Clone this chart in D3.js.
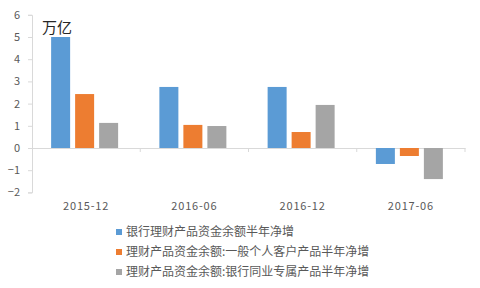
<!DOCTYPE html>
<html>
<head>
<meta charset="utf-8">
<script src="https://cdn.jsdelivr.net/npm/d3@7"></script>
<style>
  body { margin: 0; background: #fff; }
  svg text { font-family: "Noto Sans CJK SC", "Noto Sans", sans-serif; }
</style>
</head>
<body>
<svg id="chart" width="480" height="288"></svg>
<script>
const categories = ["2015-12", "2016-06", "2016-12", "2017-06"];
const seriesNames = [
  "银行理财产品资金余额半年净增",
  "理财产品资金余额:一般个人客户产品半年净增",
  "理财产品资金余额:银行同业专属产品半年净增"
];
const bankTotal = [5.0, 2.75, 2.75, -0.72];
const personal = [2.43, 1.04, 0.72, -0.36];
const interbank = [1.13, 0.99, 1.94, -1.40];
const yTicks = [-2, -1, 0, 1, 2, 3, 4, 5, 6];
const colors = ["#5b9bd5", "#ed7d31", "#a5a5a5"];

const svg = d3.select("#chart");
const plotLeft = 32, plotRight = 465, plotTop = 14.8, plotBottom = 192.4;

const x = d3.scaleBand().domain(categories).range([plotLeft, plotRight]);
const y = d3.scaleLinear().domain([-2, 6]).range([plotBottom, plotTop]);
const series = [bankTotal, personal, interbank];

// y axis
const yAxis = svg.append("g")
  .attr("transform", "translate(" + plotLeft + ",0)")
  .call(d3.axisLeft(y).tickValues(yTicks).tickSize(4).tickPadding(8).tickFormat(d3.format("d")));
yAxis.select(".domain").attr("stroke", "#d9d9d9");
yAxis.selectAll(".tick line").attr("stroke", "#d9d9d9");
yAxis.selectAll("text").attr("fill", "#595959").style("font-size", "11px");

// zero line with category ticks
const xAxis = svg.append("g")
  .attr("transform", "translate(0," + y(0) + ")")
  .call(d3.axisBottom(x).tickSize(0).tickFormat(""));
xAxis.select(".domain").attr("stroke", "#d9d9d9");
xAxis.selectAll(".tick").remove();
xAxis.selectAll(".sep")
  .data(categories)
  .enter()
  .append("line")
  .attr("x1", d => x(d) + x.bandwidth())
  .attr("x2", d => x(d) + x.bandwidth())
  .attr("y1", 0)
  .attr("y2", 4)
  .attr("stroke", "#d9d9d9");

// category labels below the plot
svg.selectAll(".cat")
  .data(categories)
  .enter()
  .append("text")
  .attr("x", d => x(d) + x.bandwidth() / 2)
  .attr("y", 210)
  .attr("text-anchor", "middle")
  .attr("fill", "#595959")
  .style("font-size", "11px")
  .style("letter-spacing", "0.8px")
  .text(d => d);

// bars
const barW = 19, gap = 5;
const inner = d3.scaleBand().domain([0, 1, 2]).range([0, barW * 3 + gap * 2]).paddingInner(gap / (barW + gap));
series.forEach((vals, si) => {
  svg.selectAll(".bar" + si)
    .data(vals)
    .enter()
    .append("rect")
    .attr("x", (d, i) => x(categories[i]) + x.bandwidth() / 2 - 35 + inner(si))
    .attr("y", d => y(Math.max(0, d)))
    .attr("width", inner.bandwidth())
    .attr("height", d => Math.abs(y(d) - y(0)))
    .attr("fill", colors[si]);
});

// unit label
svg.append("text")
  .attr("x", 42)
  .attr("y", 33)
  .attr("fill", "#262626")
  .style("font-size", "15px")
  .text("万亿");

// legend
const legend = svg.selectAll(".legend")
  .data(seriesNames)
  .enter()
  .append("g")
  .attr("transform", (d, i) => "translate(116," + (232 + i * 20) + ")");
legend.append("rect")
  .attr("x", 0)
  .attr("y", -3)
  .attr("width", 6)
  .attr("height", 6)
  .attr("fill", (d, i) => colors[i]);
legend.append("text")
  .attr("x", 10)
  .attr("y", 0)
  .attr("dy", "0.35em")
  .attr("fill", "#595959")
  .style("font-size", "12px")
  .text(d => d);
</script>
</body>
</html>
